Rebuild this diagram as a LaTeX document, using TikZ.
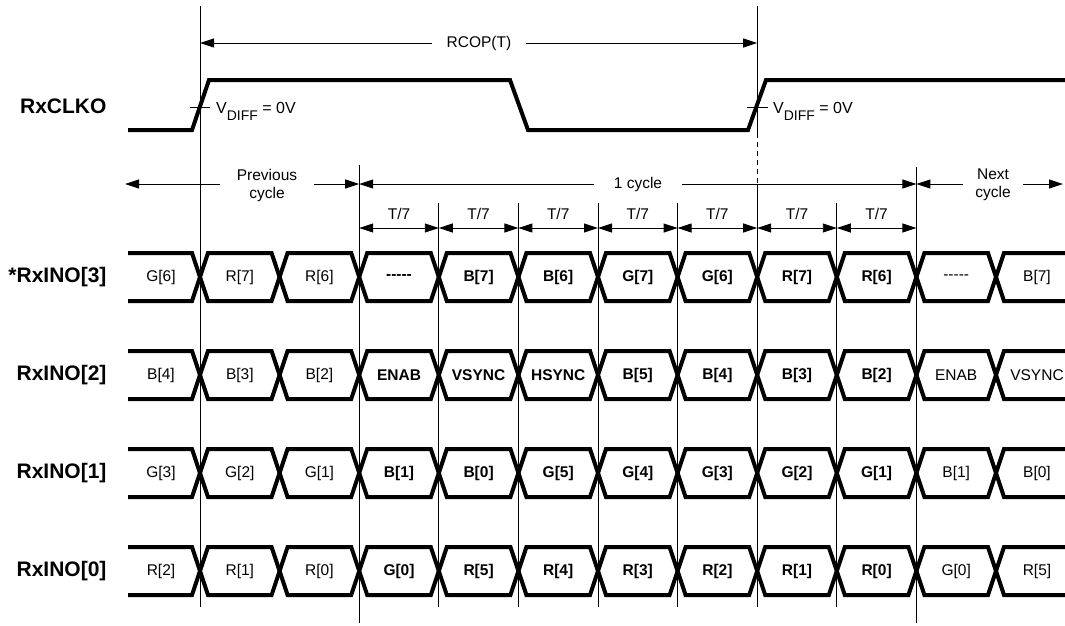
\documentclass[tikz,border=0pt]{standalone}
\usepackage{fontspec}
\setmainfont{Liberation Sans}
\usetikzlibrary{arrows.meta}
\newcommand\dfont{\fontsize{15.5}{18}\selectfont}
\newcommand\lfont{\bfseries\fontsize{21}{24}\selectfont}
\newcommand\dsh{-\kern0pt-\kern0pt-\kern0pt-\kern0pt-}
\newcommand\datarow[1]{%
  \pgfmathsetmacro\rtop{#1-24}\pgfmathsetmacro\rbot{#1+24}%
  \draw[sig] (128,\rtop) foreach \a/\b in {200/279.6,359.2/438.8,518.4/598,677.6/757.2,836.8/916.4}{ -- ({\a-8},\rtop) -- ({\a+8},\rbot) -- ({\b-8},\rbot) -- ({\b+8},\rtop)} -- (988,\rtop) -- (1004,\rbot) -- (1065,\rbot);
  \draw[sig] (128,\rbot) foreach \a/\b in {200/279.6,359.2/438.8,518.4/598,677.6/757.2,836.8/916.4}{ -- ({\a-8},\rbot) -- ({\a+8},\rtop) -- ({\b-8},\rtop) -- ({\b+8},\rbot)} -- (988,\rbot) -- (1004,\rtop) -- (1065,\rtop);
}
\newcommand\datalabels[3]{%
  \foreach \t [count=\i from 0] in {#3} {
    \pgfmathsetmacro\xx{{161,239.8,319.4,399,478.6,558.2,637.8,717.4,797,876.6,956.2,1037}[\i]}
    \ifnum\i>2 \ifnum\i<10 \gdef\segfont{\bfseries}\else\gdef\segfont{}\fi\else\gdef\segfont{}\fi
    \node[font=\dfont\segfont] (#2-\i) at (\xx,#1) {\t};
  }
}
\begin{document}
\begin{tikzpicture}[x=1pt,y=-1pt,
  sig/.style={line width=4pt,line join=miter},
  thinline/.style={line width=1pt},
  dim/.style={line width=0.9pt,{Triangle[length=14pt,width=9pt]}-{Triangle[length=14pt,width=9pt]}},
  rowlab/.style={font=\lfont,anchor=east},
  gaplab/.style={fill=white,font=\dfont,align=center,inner ysep=1pt}
]
\useasboundingbox (0,0) rectangle (1065,625);

% vertical reference lines
\coordinate (v0t) at (200,6);     \coordinate (v0b) at (200,607);
\coordinate (v2t) at (359.2,165); \coordinate (v2b) at (359.2,623);
\coordinate (v9t) at (916.4,167); \coordinate (v9b) at (916.4,623);
\coordinate (v7t) at (757.2,6);   \coordinate (v7d) at (757.2,133);
\coordinate (v7e) at (757.2,184); \coordinate (v7b) at (757.2,607);
\draw[thinline] (v0t) -- (v0b);
\draw[thinline] (v2t) -- (v2b);
\draw[thinline] (v9t) -- (v9b);
\draw[thinline] (v7t) -- (v7d);
\draw[thinline,dash pattern=on 5pt off 4pt] (v7d) -- (v7e);
\draw[thinline] (v7e) -- (v7b);
\foreach \x [count=\k] in {438.8,518.4,598,677.6,836.8} {
  \coordinate (vt\k) at (\x,203); \coordinate (vb\k) at (\x,607);
  \draw[thinline] (vt\k) -- (vb\k);
}

% RCOP(T)
\coordinate (rc1) at (200,43); \coordinate (rc2) at (757.2,43);
\draw[dim] (rc1) -- (rc2);
\node[gaplab,inner xsep=15pt] (rcop) at (479,43) {RCOP(T)};

% cycle arrows
\coordinate (pc1) at (125,184); \coordinate (pc2) at (359.2,184);
\coordinate (oc2) at (916.4,184); \coordinate (nc2) at (1063,184);
\draw[dim] (pc1) -- (pc2);
\draw[dim] (pc2) -- (oc2);
\draw[dim] (oc2) -- (nc2);
\node[gaplab,inner xsep=17pt] (prev) at (267,185) {Previous\\cycle};
\node[gaplab,inner xsep=20pt] (onec) at (638,184) {1 cycle};
\node[gaplab,inner xsep=12pt] (next) at (993,185) {Next\\cycle};

% T/7 arrows
\foreach \a/\b [count=\k] in {359.2/438.8,438.8/518.4,518.4/598,598/677.6,677.6/757.2,757.2/836.8,836.8/916.4} {
  \coordinate (ta\k) at (\a,228); \coordinate (tb\k) at (\b,228);
  \draw[dim] (ta\k) -- (tb\k);
  \node[font=\dfont] (tl\k) at ({(\a+\b)/2},214) {T/7};
}

% clock
\draw[sig] (128,130) -- (192,130) -- (209,80) -- (510,80) -- (528,130) -- (748,130) -- (766,80) -- (1065,80);
\coordinate (k1a) at (190,107); \coordinate (k1b) at (210,107);
\coordinate (k2a) at (747,107); \coordinate (k2b) at (768,107);
\draw[thinline] (k1a) -- (k1b);
\draw[thinline] (k2a) -- (k2b);
\node[anchor=base west,font=\fontsize{16}{18}\selectfont,inner sep=0pt] (vd1) at (216,113) {V\raisebox{-7pt}{\fontsize{14}{16}\selectfont DIFF} = 0V};
\node[anchor=base west,font=\fontsize{16}{18}\selectfont,inner sep=0pt] (vd2) at (773,113) {V\raisebox{-7pt}{\fontsize{14}{16}\selectfont DIFF} = 0V};

% row labels
\node[rowlab] (lclk) at (110,106) {RxCLKO};
\node[rowlab] (l3) at (110,277) {*RxINO[3]};
\node[rowlab] (l2) at (110,375) {RxINO[2]};
\node[rowlab] (l1) at (110,473) {RxINO[1]};
\node[rowlab] (l0) at (110,571) {RxINO[0]};

% data rows
\datarow{277}
\datarow{375}
\datarow{473}
\datarow{571}
\datalabels{277}{r3}{G[6],R[7],R[6],\dsh,B[7],B[6],G[7],G[6],R[7],R[6],\dsh,B[7]}
\datalabels{375}{r2}{B[4],B[3],B[2],ENAB,VSYNC,HSYNC,B[5],B[4],B[3],B[2],ENAB,VSYNC}
\datalabels{473}{r1}{G[3],G[2],G[1],B[1],B[0],G[5],G[4],G[3],G[2],G[1],B[1],B[0]}
\datalabels{571}{r0}{R[2],R[1],R[0],G[0],R[5],R[4],R[3],R[2],R[1],R[0],G[0],R[5]}
\end{tikzpicture}
\end{document}
